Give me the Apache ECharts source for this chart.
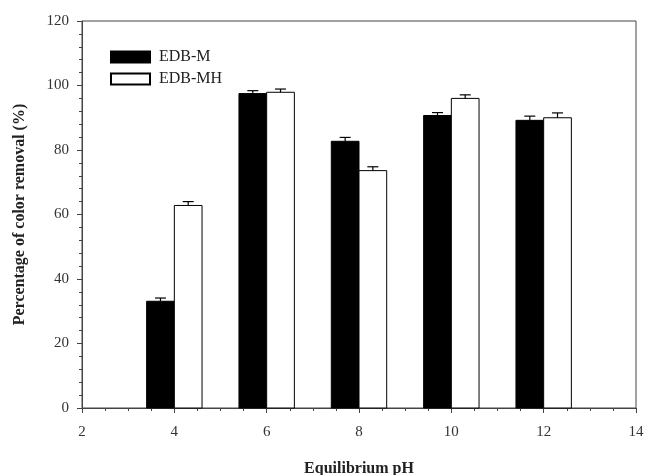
<!DOCTYPE html>
<html>
<head>
<meta charset="utf-8">
<script src="https://cdn.jsdelivr.net/npm/echarts@6/dist/echarts.min.js"></script>
<style>html,body{margin:0;padding:0;background:#fff}#c{width:645px;height:475px}</style>
</head>
<body>
<div id="c"></div>
<script>
const pH = [4, 6, 8, 10, 12];
const edbM = [33.1, 97.5, 82.7, 90.7, 89.2];
const edbMErr = [1.0, 0.9, 1.2, 0.9, 1.3];
const edbMH = [62.8, 97.9, 73.6, 96.0, 90.0];
const edbMHErr = [1.2, 1.0, 1.2, 1.1, 1.5];
const xTicks = [2, 4, 6, 8, 10, 12, 14];
const yTicks = [0, 20, 40, 60, 80, 100, 120];

const FONT = '"Liberation Serif", "Times New Roman", serif';
const AX = '#444';
const BAR_W = 0.6;

function barRender(off0, off1, fill) {
  return function (params, api) {
    const x = api.value(0), y = api.value(1);
    const p0 = api.coord([x + off0, y]);
    const p1 = api.coord([x + off1, 0]);
    return {
      type: 'rect',
      shape: { x: p0[0], y: p0[1], width: p1[0] - p0[0], height: p1[1] - p0[1] },
      style: { fill: fill, stroke: '#000', lineWidth: 1 }
    };
  };
}
function errRender(off) {
  return function (params, api) {
    const x = api.value(0) + off, y = api.value(1), e = api.value(2);
    const a = api.coord([x, y]);
    const b = api.coord([x, y + e]);
    const hw = 5.5;
    return {
      type: 'group',
      children: [
        { type: 'line', shape: { x1: a[0], y1: a[1], x2: b[0], y2: b[1] }, style: { stroke: '#000', lineWidth: 1.2 } },
        { type: 'line', shape: { x1: b[0] - hw, y1: b[1], x2: b[0] + hw, y2: b[1] }, style: { stroke: '#000', lineWidth: 1.2 } }
      ]
    };
  };
}

const chart = echarts.init(document.getElementById('c'), null, { renderer: 'canvas' });
chart.setOption({
  animation: false,
  backgroundColor: '#fff',
  textStyle: { fontFamily: FONT },
  grid: { left: 82, right: 9, top: 21, bottom: 67, outerBoundsMode: 'none', containLabel: false, show: true, borderColor: AX, borderWidth: 1, backgroundColor: 'transparent' },
  legend: {
    data: ['EDB-M', 'EDB-MH'],
    orient: 'vertical',
    left: 110, top: 49, padding: 0,
    icon: 'rect',
    itemWidth: 39, itemHeight: 11, itemGap: 6,
    textStyle: { fontFamily: FONT, fontSize: 16, color: '#222', padding: [0, 0, 0, 4] }
  },
  xAxis: {
    type: 'value', min: xTicks[0], max: xTicks[xTicks.length - 1], interval: 2,
    name: 'Equilibrium pH', nameLocation: 'middle', nameGap: 53,
    nameTextStyle: { fontFamily: FONT, fontSize: 16, fontWeight: 'bold', color: '#222' },
    axisLine: { show: true, onZero: false, lineStyle: { color: AX, width: 1 } },
    axisTick: { show: true, inside: false, length: 5, lineStyle: { color: AX } },
    minorTick: { show: true, splitNumber: 4, length: 3, lineStyle: { color: AX } },
    axisLabel: { fontFamily: FONT, fontSize: 15, color: '#333', margin: 17 },
    splitLine: { show: false }
  },
  yAxis: {
    type: 'value', min: yTicks[0], max: yTicks[yTicks.length - 1], interval: 20,
    name: 'Percentage of color removal (%)', nameLocation: 'middle', nameGap: 54,
    nameTextStyle: { fontFamily: FONT, fontSize: 16, fontWeight: 'bold', color: '#222' },
    axisLine: { show: true, lineStyle: { color: AX, width: 1 } },
    axisTick: { show: true, inside: false, length: 5, lineStyle: { color: AX } },
    minorTick: { show: true, splitNumber: 5, length: 3, lineStyle: { color: AX } },
    axisLabel: { fontFamily: FONT, fontSize: 15, color: '#333', margin: 13 },
    splitLine: { show: false }
  },
  series: [
    {
      name: 'EDB-M', type: 'custom', renderItem: barRender(-BAR_W, 0, '#000'),
      itemStyle: { color: '#000', borderColor: '#000', borderWidth: 1 },
      encode: { x: 0, y: 1 },
      data: pH.map((x, i) => [x, edbM[i]]), z: 2
    },
    {
      name: 'EDB-MH', type: 'custom', renderItem: barRender(0, BAR_W, '#fff'),
      itemStyle: { color: '#fff', borderColor: '#000', borderWidth: 1 },
      encode: { x: 0, y: 1 },
      data: pH.map((x, i) => [x, edbMH[i]]), z: 2
    },
    {
      name: 'errM', type: 'custom', renderItem: errRender(-BAR_W / 2),
      encode: { x: 0, y: [1, 2] },
      data: pH.map((x, i) => [x, edbM[i], edbMErr[i]]), z: 3
    },
    {
      name: 'errMH', type: 'custom', renderItem: errRender(BAR_W / 2),
      encode: { x: 0, y: [1, 2] },
      data: pH.map((x, i) => [x, edbMH[i], edbMHErr[i]]), z: 3
    }
  ]
});
</script>
</body>
</html>
